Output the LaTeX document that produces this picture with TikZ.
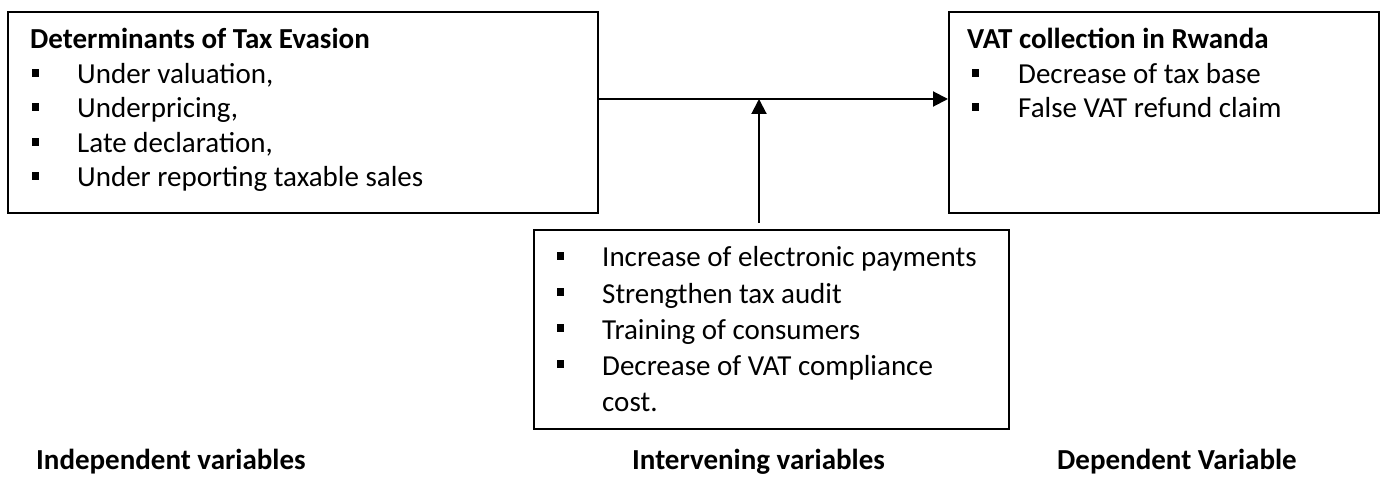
\documentclass[tikz,border=0pt]{standalone}
\usepackage{fontspec}
\setmainfont{Carlito}
\usetikzlibrary{arrows.meta,calc}
\begin{document}
\begin{tikzpicture}[x=1pt,y=-1pt,
  box/.style={draw, line width=2pt, inner sep=0pt, anchor=north west},
  txt/.style={anchor=base west, inner sep=0pt, font=\fontsize{29}{35}\selectfont},
  ttl/.style={anchor=base west, inner sep=0pt, font=\fontsize{29}{35}\selectfont\bfseries},
  bul/.style={fill=black, inner sep=0pt, minimum width=7pt, minimum height=8pt, anchor=south west},
  arr/.style={line width=2pt, -{Triangle[length=15pt,width=15pt]}}]
\useasboundingbox (0,0) rectangle (1381,478);
% boxes
\node[box, minimum width=590pt, minimum height=201pt] (L) at (7,11) {};
\node[box, minimum width=430pt, minimum height=201pt] (R) at (948,11) {};
\node[box, minimum width=475pt, minimum height=199pt] (M) at (533,229) {};
% left box text
\node[ttl] (Lt) at (30,49) {Determinants of Tax Evasion};
\node[bul] (Lb1) at (32,77) {};
\node[txt] (L1) at (77,84) {Under valuation,};
\node[bul] (Lb2) at (32,111) {};
\node[txt] (L2) at (77,118) {Underpricing,};
\node[bul] (Lb3) at (32,146) {};
\node[txt] (L3) at (77,153) {Late declaration,};
\node[bul] (Lb4) at (32,180) {};
\node[txt] (L4) at (77,187) {Under reporting taxable sales};
% right box text
\node[ttl] (Rt) at (967,49) {VAT collection in Rwanda};
\node[bul] (Rb1) at (972,77) {};
\node[txt] (R1) at (1018,84) {Decrease of tax base};
\node[bul] (Rb2) at (972,111) {};
\node[txt] (R2) at (1018,118) {False VAT refund claim};
% middle box text
\node[bul] (Mb1) at (557,260) {};
\node[txt] (M1) at (602,267) {Increase of electronic payments};
\node[bul] (Mb2) at (557,296) {};
\node[txt] (M2) at (602,303) {Strengthen tax audit};
\node[bul] (Mb3) at (557,332) {};
\node[txt] (M3) at (602,339) {Training of consumers};
\node[bul] (Mb4) at (557,368) {};
\node[txt] (M4) at (602,375) {Decrease of VAT compliance};
\node[txt] (M5) at (602,411) {cost.};
% bottom labels
\node[ttl] (C1) at (36,469) {Independent variables};
\node[ttl] (C2) at (632,469) {Intervening variables};
\node[ttl] (C3) at (1057,469) {Dependent Variable};
% connectors
\coordinate (J) at (759,99);
\draw[arr] (L.east |- J) -- (R.west |- J);
\draw[arr] ($(M.north -| J)+(0,-6)$) -- (J);
\end{tikzpicture}
\end{document}
